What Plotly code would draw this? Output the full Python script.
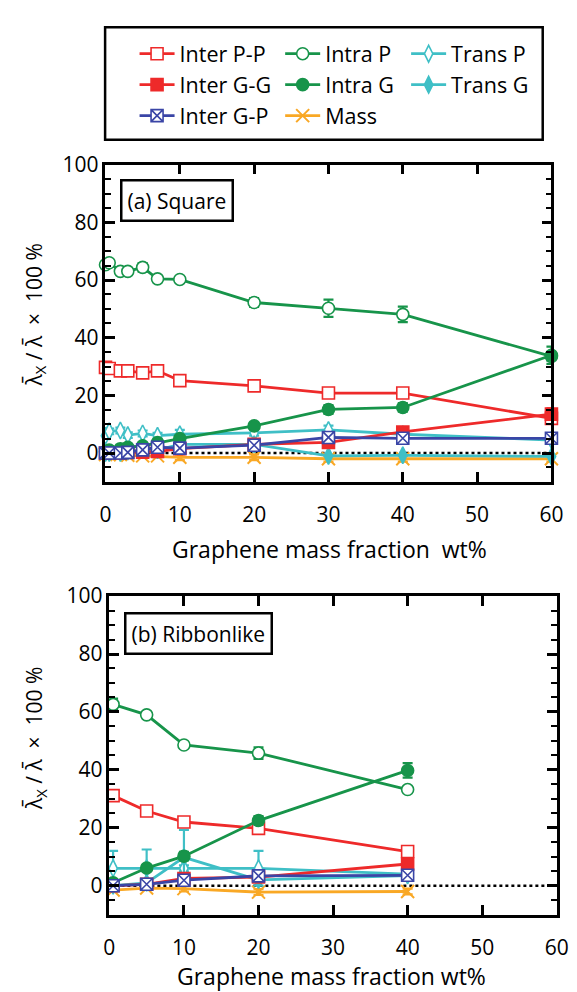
import plotly.graph_objects as go

FONT = "Open Sans"
W, H = 577, 992

# ---------------- (a) Square ----------------
x_sq = [0, 0.5, 2, 3, 5, 7, 10, 20, 30, 40, 60]
sq_inter_pp = [29.7, 29.3, 28.5, 28.5, 27.8, 28.5, 25.1, 23.3, 20.8, 20.8, 12.0]
sq_inter_gg = [0.0, 0.0, 0.0, 0.2, 0.3, 0.5, 1.5, 3.0, 3.7, 7.3, 13.5]
sq_inter_gp = [0.0, 0.0, 0.0, 0.2, 1.1, 2.0, 1.7, 2.7, 5.4, 5.1, 5.1]
sq_intra_p = [65.3, 66.0, 63.0, 63.0, 64.4, 60.4, 60.2, 52.2, 50.2, 48.1, 33.5]
sq_intra_g = [0.5, 1.0, 1.5, 2.0, 2.5, 3.6, 5.0, 9.4, 15.1, 15.8, 33.9]
sq_trans_p = [6.0, 7.5, 7.8, 6.2, 6.8, 6.0, 6.5, 7.0, 8.0, 6.5, 4.5]
sq_trans_g = [0.0, 0.0, 0.0, 0.5, 1.0, 1.0, 3.0, 3.0, -1.0, -0.8, -1.2]
sq_mass = [-0.5, -0.5, -0.5, -0.8, -1.0, -1.0, -1.5, -1.5, -2.0, -2.0, -2.0]

sq_err_intra_p = [1.0, 1.0, 1.0, 1.0, 1.5, 1.0, 1.0, 1.5, 3.0, 2.7, 1.5]
sq_err_intra_g = [0.5, 0.5, 0.5, 0.5, 0.5, 0.5, 0.8, 1.0, 1.5, 1.5, 3.0]
sq_err_inter_gg = [0.3, 0.3, 0.3, 0.3, 0.3, 0.3, 0.5, 0.5, 1.0, 1.0, 2.0]
sq_err_trans_p = [1.0, 1.0, 1.0, 1.0, 1.0, 1.0, 1.5, 1.0, 1.5, 1.0, 1.0]
sq_err_mass = [0.5, 0.5, 0.5, 0.5, 0.5, 0.5, 1.0, 1.0, 1.0, 1.0, 1.0]

# ---------------- (b) Ribbonlike ----------------
x_rb = [0.5, 5, 10, 20, 40]
rb_inter_pp = [31.1, 25.8, 22.0, 19.8, 11.8]
rb_inter_gg = [0.0, 0.5, 2.5, 3.0, 7.5]
rb_inter_gp = [0.0, 0.5, 1.9, 3.4, 3.6]
rb_intra_p = [62.6, 59.0, 48.6, 45.8, 33.2]
rb_intra_g = [1.0, 6.1, 10.2, 22.5, 39.8]
rb_trans_p = [6.0, 6.0, 6.0, 6.0, 4.0]
rb_trans_g = [0.0, 1.0, 9.8, 2.0, 3.5]
rb_mass = [-1.5, -0.8, -1.0, -2.2, -2.0]

rb_err_intra_p = [2.0, 1.0, 1.0, 2.0, 1.0]
rb_err_intra_g = [0.5, 1.0, 1.5, 1.5, 2.5]
rb_err_trans_p = [6.0, 6.5, 1.0, 6.0, 1.0]
rb_err_trans_g = [0.5, 0.5, 9.5, 0.5, 0.5]
rb_err_mass = [0.5, 0.5, 1.0, 1.0, 1.0]

RED = "#EE2A2A"
GREEN = "#17944A"
BLUE = "#3A45A6"
CYAN = "#3FBFC6"
ORANGE = "#F9A825"

# name -> (symbol, edge colour, fill colour, legend, rank)
styles = {
    "Mass": ("x-thin", ORANGE, ORANGE, "legend2", 3),
    "Trans P": ("diamond-tall", CYAN, "white", "legend3", 1),
    "Trans G": ("diamond-tall", CYAN, CYAN, "legend3", 2),
    "Inter P-P": ("square", RED, "white", "legend", 1),
    "Inter G-G": ("square", RED, RED, "legend", 2),
    "Intra P": ("circle", GREEN, "white", "legend2", 1),
    "Intra G": ("circle", GREEN, GREEN, "legend2", 2),
    "Inter G-P": ("square-x", BLUE, "white", "legend", 3),
}
sizes = {"Mass": 13, "Trans P": 12, "Trans G": 12, "Inter P-P": 12,
         "Inter G-G": 12, "Intra P": 12, "Intra G": 12, "Inter G-P": 12}

panel_a = {
    "Mass": (sq_mass, sq_err_mass),
    "Trans P": (sq_trans_p, sq_err_trans_p),
    "Trans G": (sq_trans_g, None),
    "Inter P-P": (sq_inter_pp, None),
    "Inter G-G": (sq_inter_gg, sq_err_inter_gg),
    "Intra P": (sq_intra_p, sq_err_intra_p),
    "Intra G": (sq_intra_g, sq_err_intra_g),
    "Inter G-P": (sq_inter_gp, None),
}
panel_b = {
    "Mass": (rb_mass, rb_err_mass),
    "Trans P": (rb_trans_p, rb_err_trans_p),
    "Trans G": (rb_trans_g, rb_err_trans_g),
    "Inter P-P": (rb_inter_pp, None),
    "Inter G-G": (rb_inter_gg, None),
    "Intra P": (rb_intra_p, rb_err_intra_p),
    "Intra G": (rb_intra_g, rb_err_intra_g),
    "Inter G-P": (rb_inter_gp, None),
}

fig = go.Figure()


def add_series(xv, data, xa, ya, show):
    for name, (yv, err) in data.items():
        sym, edge, fill, leg, rank = styles[name]
        is_x = sym.startswith("x-thin")
        marker = dict(symbol=sym, size=sizes[name], color=fill,
                      line=dict(color=edge, width=2 if is_x else 1.6))
        tr = go.Scatter(
            x=xv, y=yv, name=name, mode="lines+markers",
            line=dict(color=edge, width=2.8), marker=marker,
            xaxis=xa, yaxis=ya, cliponaxis=False,
            showlegend=show, legend=leg, legendrank=rank,
        )
        if err is not None:
            tr.error_y = dict(type="data", array=err, color=edge,
                              thickness=2.2, width=5)
        fig.add_trace(tr)


add_series(x_sq, panel_a, "x", "y", True)
add_series(x_rb, panel_b, "x2", "y2", False)


def px_x(p):
    return p / W


def px_y(p):
    return 1 - p / H


axis_common = dict(
    showline=True, linecolor="black", linewidth=2.5, mirror="ticks",
    ticks="inside", ticklen=10, tickwidth=2.5, tickcolor="black",
    showgrid=False, zeroline=False,
    tickfont=dict(family=FONT, size=21, color="black"),
)
xcommon = dict(axis_common, range=[0, 60], tick0=0, dtick=10,
               ticklabelstandoff=12)
ycommon = dict(axis_common, range=[-10, 100], tick0=0, dtick=20,
               minor=dict(dtick=5, ticks="inside", ticklen=6,
                          tickwidth=2, tickcolor="black"))

fig.update_layout(
    width=W, height=H, margin=dict(l=0, r=0, t=0, b=0),
    paper_bgcolor="white", plot_bgcolor="white",
    xaxis=dict(xcommon, domain=[px_x(102.7), px_x(563)], anchor="y"),
    yaxis=dict(ycommon, domain=[px_y(474), px_y(152)], anchor="x"),
    xaxis2=dict(xcommon, domain=[px_x(106.7), px_x(568.5)], anchor="y2"),
    yaxis2=dict(ycommon, domain=[px_y(913.5), px_y(590)], anchor="x2"),
)

leg_common = dict(
    bgcolor="rgba(0,0,0,0)", borderwidth=0, orientation="v",
    font=dict(family=FONT, size=21.5, color="black"), itemwidth=35,
    xanchor="left", yanchor="top", y=px_y(18.5), traceorder="normal",
)
fig.update_layout(
    legend=dict(leg_common, x=px_x(132.7)),
    legend2=dict(leg_common, x=px_x(283)),
    legend3=dict(leg_common, x=px_x(413)),
)

# legend frame and the zero reference lines
fig.add_shape(type="rect", xref="paper", yref="paper",
              x0=px_x(102.3), x1=px_x(554), y0=px_y(126.7), y1=px_y(12.5),
              line=dict(color="black", width=2.5), layer="below")
for xr, yr in (("x domain", "y"), ("x2 domain", "y2")):
    fig.add_shape(type="line", xref=xr, yref=yr, x0=0, x1=1, y0=0, y1=0,
                  line=dict(color="black", width=2.5, dash="dot"),
                  layer="below")

ytitle = "λ\u0304<sub>X</sub> / λ\u0304  ×  100 %"
annots = [
    dict(text="(a) Square", x=px_x(177), y=px_y(188.5),
         font=dict(family=FONT, size=21, color="black"),
         bordercolor="black", borderwidth=2.5, borderpad=5, bgcolor="white"),
    dict(text="(b) Ribbonlike", x=px_x(199), y=px_y(628),
         font=dict(family=FONT, size=21, color="black"),
         bordercolor="black", borderwidth=2.5, borderpad=5, bgcolor="white"),
    dict(text="Graphene mass fraction  wt%", x=px_x(333.5), y=px_y(541.7),
         font=dict(family=FONT, size=23, color="black")),
    dict(text="Graphene mass fraction wt%", x=px_x(336), y=px_y(976),
         font=dict(family=FONT, size=23, color="black")),
    dict(text=ytitle, x=px_x(30), y=px_y(305), textangle=-90,
         font=dict(family=FONT, size=21, color="black")),
    dict(text=ytitle, x=px_x(30), y=px_y(735), textangle=-90,
         font=dict(family=FONT, size=21, color="black")),
]
for a in annots:
    fig.add_annotation(xref="paper", yref="paper", showarrow=False,
                       xanchor="center", yanchor="middle", **a)

fig.write_html("out.html")
